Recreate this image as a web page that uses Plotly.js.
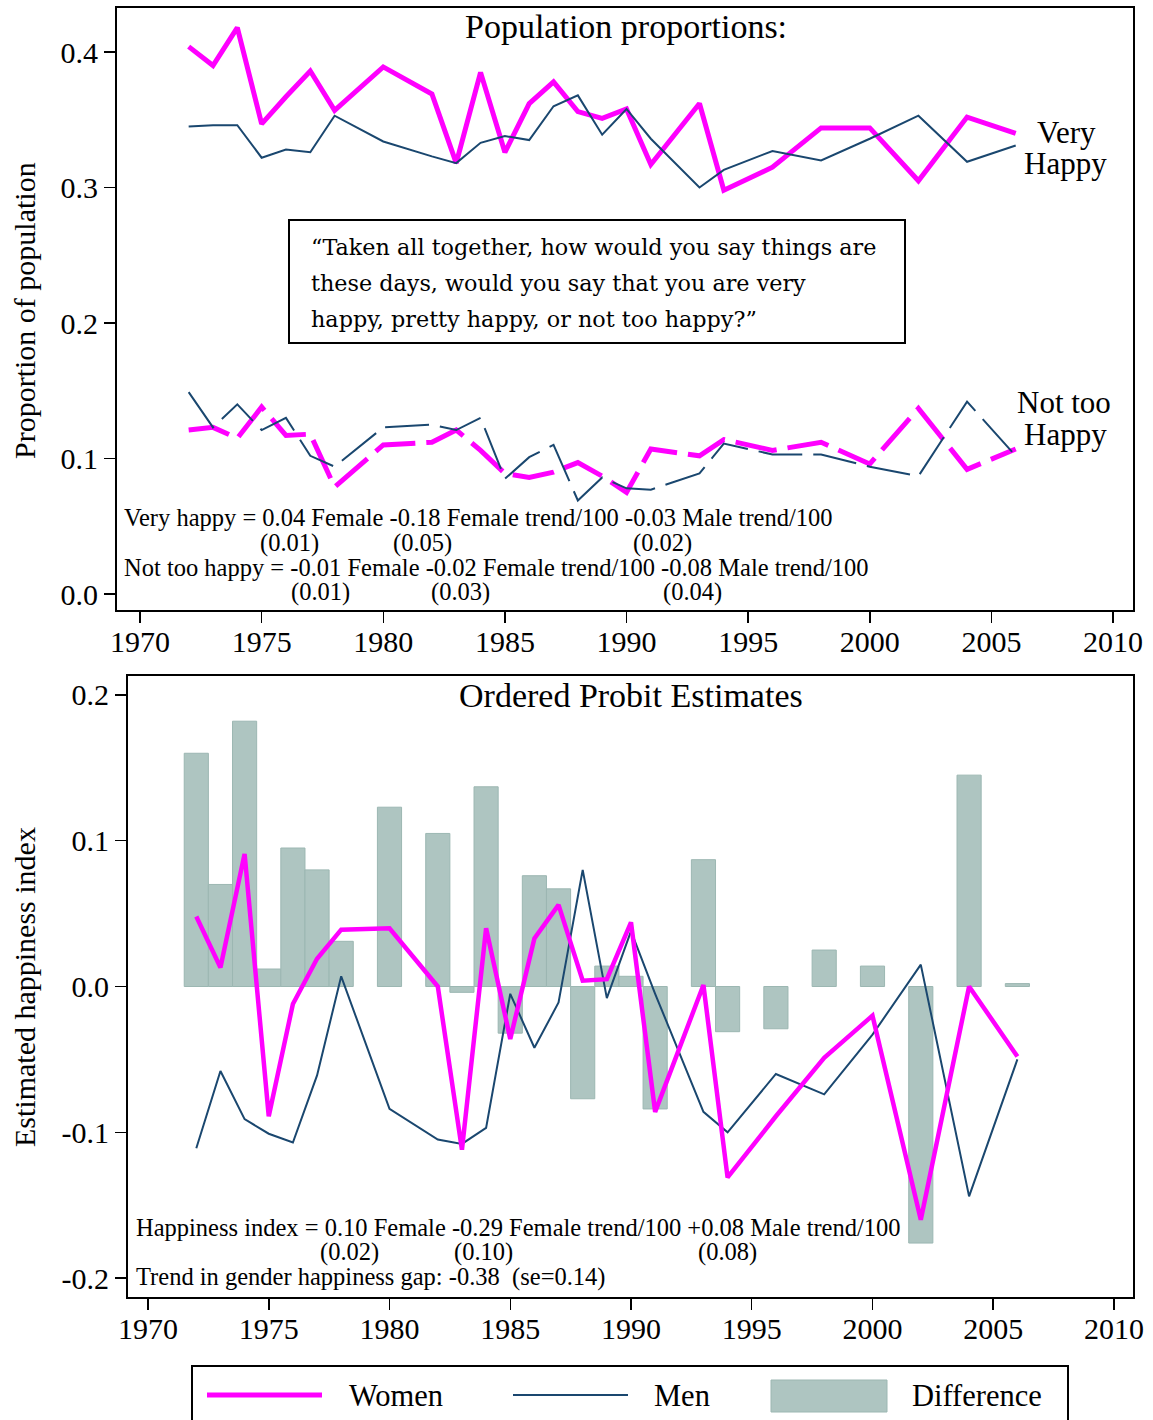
<!DOCTYPE html>
<html>
<head>
<meta charset="utf-8">
<script src="https://cdn.plot.ly/plotly-3.0.1.min.js"></script>
<style>
html,body{margin:0;padding:0;background:#fff;}
#chart{width:1153px;height:1420px;}
</style>
</head>
<body>
<div id="chart"></div>
<script>
// ---------------- DATA ----------------
const years = [1972,1973,1974,1975,1976,1977,1978,1980,1982,1983,1984,1985,1986,1987,1988,1989,1990,1991,1993,1994,1996,1998,2000,2002,2004,2006];

const womenVeryHappy = [0.404,0.390,0.418,0.347,0.367,0.386,0.357,0.389,0.369,0.318,0.385,0.326,0.362,0.378,0.356,0.351,0.358,0.317,0.362,0.298,0.315,0.344,0.344,0.305,0.352,0.340];
const menVeryHappy   = [0.345,0.346,0.346,0.322,0.328,0.326,0.353,0.334,0.323,0.318,0.333,0.338,0.335,0.360,0.368,0.339,0.358,0.336,0.300,0.313,0.327,0.320,0.336,0.353,0.319,0.331];
const womenNotTooHappy = [0.121,0.123,0.115,0.138,0.117,0.118,0.079,0.110,0.112,0.121,0.106,0.089,0.086,0.090,0.097,0.087,0.075,0.107,0.102,0.114,0.106,0.112,0.096,0.137,0.092,0.107];
const menNotTooHappy   = [0.149,0.123,0.140,0.121,0.130,0.102,0.094,0.123,0.125,0.121,0.130,0.085,0.101,0.110,0.069,0.086,0.078,0.077,0.089,0.111,0.103,0.103,0.094,0.087,0.142,0.102];

const womenIndex = [0.048,0.013,0.091,-0.089,-0.012,0.019,0.039,0.040,0.000,-0.112,0.040,-0.036,0.033,0.056,0.004,0.005,0.044,-0.086,0.001,-0.131,-0.089,-0.049,-0.020,-0.160,0.000,-0.048];
const menIndex   = [-0.111,-0.058,-0.091,-0.101,-0.107,-0.061,0.007,-0.084,-0.105,-0.108,-0.097,-0.005,-0.042,-0.011,0.080,-0.008,0.038,-0.005,-0.086,-0.100,-0.060,-0.074,-0.033,0.015,-0.144,-0.050];
const difference = [0.160,0.070,0.182,0.012,0.095,0.080,0.031,0.123,0.105,-0.004,0.137,-0.032,0.076,0.067,-0.077,0.014,0.007,-0.084,0.087,-0.031,-0.029,0.025,0.014,-0.176,0.145,0.002];

const xTickVals = [1970,1975,1980,1985,1990,1995,2000,2005,2010];
const xTickLabels = ['1970','1975','1980','1985','1990','1995','2000','2005','2010'];
const yTopTickVals = [0,0.1,0.2,0.3,0.4];
const yTopTickLabels = ['0.0','0.1','0.2','0.3','0.4'];
const yBotTickVals = [-0.2,-0.1,0,0.1,0.2];
const yBotTickLabels = ['-0.2','-0.1','0.0','0.1','0.2'];

const topTitle = 'Population proportions:';
const botTitle = 'Ordered Probit Estimates';
const topYTitle = 'Proportion of population';
const botYTitle = 'Estimated happiness index';
const quoteLines = ['\u201cTaken all together, how would you say things are',
                    'these days, would you say that you are very',
                    'happy, pretty happy, or not too happy?\u201d'];
const legendLabels = ['Women','Men','Difference'];

// ---------------- STYLE ----------------
const W = 1153, H = 1420;
const px = x => x / W;
const py = y => 1 - y / H;
const MAG = '#FF00FF';
const NAVY = '#1A476F';
const BAR = '#AEC5C1';
const BARLINE = '#9CB7B2';
const FONT = 'Liberation Serif, Times New Roman, serif';
const QFONT = 'DejaVu Serif, serif';

const traces = [
  {x: years, y: womenVeryHappy, type:'scatter', mode:'lines', xaxis:'x', yaxis:'y',
   line:{color:MAG, width:5}, hoverinfo:'skip'},
  {x: years, y: menVeryHappy, type:'scatter', mode:'lines', xaxis:'x', yaxis:'y',
   line:{color:NAVY, width:2}, hoverinfo:'skip'},
  {x: years, y: womenNotTooHappy, type:'scatter', mode:'lines', xaxis:'x', yaxis:'y',
   line:{color:MAG, width:5, dash:'42px,11px'}, hoverinfo:'skip'},
  {x: years, y: menNotTooHappy, type:'scatter', mode:'lines', xaxis:'x', yaxis:'y',
   line:{color:NAVY, width:2, dash:'44px,11px'}, hoverinfo:'skip'},
  {x: years, y: difference, type:'bar', xaxis:'x2', yaxis:'y2', width:1,
   marker:{color:BAR, line:{color:BARLINE, width:1}}, hoverinfo:'skip'},
  {x: years, y: menIndex, type:'scatter', mode:'lines', xaxis:'x2', yaxis:'y2',
   line:{color:NAVY, width:2}, hoverinfo:'skip'},
  {x: years, y: womenIndex, type:'scatter', mode:'lines', xaxis:'x2', yaxis:'y2',
   line:{color:MAG, width:4.5}, hoverinfo:'skip'}
];

function axisBase(){
  return {showline:true, linecolor:'#000', linewidth:2, mirror:true,
          ticks:'outside', ticklen:11, tickwidth:1.5, tickcolor:'#000',
          showgrid:false, zeroline:false, fixedrange:true,
          tickfont:{family:FONT, size:30, color:'#000'}};
}

const xa = Object.assign(axisBase(), {domain:[px(117), px(1133)], range:[1969.054, 2010.822],
  anchor:'y', tickmode:'array', tickvals:xTickVals, ticktext:xTickLabels, ticklabelstandoff:-7});
const ya = Object.assign(axisBase(), {domain:[py(610), py(8)], range:[-0.0118, 0.4325],
  anchor:'x', tickmode:'array', tickvals:yTopTickVals, ticktext:yTopTickLabels});
const xa2 = Object.assign(axisBase(), {domain:[px(128), px(1133)], range:[1969.172, 2010.787],
  anchor:'y2', tickmode:'array', tickvals:xTickVals, ticktext:xTickLabels, ticklabelstandoff:-7});
const ya2 = Object.assign(axisBase(), {domain:[py(1297), py(676)], range:[-0.2130, 0.2130],
  anchor:'x2', tickmode:'array', tickvals:yBotTickVals, ticktext:yBotTickLabels});

function ann(text, x, y, size, opts){
  return Object.assign({text:text, x:px(x), y:py(y), xref:'paper', yref:'paper',
    showarrow:false, xanchor:'center', yanchor:'middle',
    font:{family:FONT, size:size, color:'#000'}}, opts||{});
}

const TS = 24.5;
const QS = 22.3;
const qopt = {xanchor:'left', font:{family:QFONT, size:QS, color:'#000'}};
const annotations = [
  ann(topTitle, 626, 27, 34),
  ann(botTitle, 631, 695, 34),
  ann(topYTitle, 24, 311, 30, {textangle:-90}),
  ann(botYTitle, 24, 987, 30, {textangle:-90}),
  ann('Very', 1066, 133, 31),
  ann('Happy', 1065, 164, 31),
  ann('Not too', 1064, 403, 31),
  ann('Happy', 1065, 435, 31),
  ann(quoteLines[0], 309, 247, QS, qopt),
  ann(quoteLines[1], 309, 283, QS, qopt),
  ann(quoteLines[2], 309, 319, QS, qopt),
  ann('Very happy = 0.04 Female -0.18 Female trend/100 -0.03 Male trend/100', 122, 518, TS, {xanchor:'left'}),
  ann('(0.01)', 289, 543, TS),
  ann('(0.05)', 422, 543, TS),
  ann('(0.02)', 662, 543, TS),
  ann('Not too happy = -0.01 Female -0.02 Female trend/100 -0.08 Male trend/100', 122, 567, TS, {xanchor:'left'}),
  ann('(0.01)', 320, 592, TS),
  ann('(0.03)', 460, 592, TS),
  ann('(0.04)', 692, 592, TS),
  ann('Happiness index = 0.10 Female -0.29 Female trend/100 +0.08 Male trend/100', 134, 1227, TS, {xanchor:'left'}),
  ann('(0.02)', 349, 1252, TS),
  ann('(0.10)', 483, 1252, TS),
  ann('(0.08)', 727, 1252, TS),
  ann('Trend in gender happiness gap: -0.38  (se=0.14)', 134, 1277, TS, {xanchor:'left'}),
  ann(legendLabels[0], 396, 1396, 30.5),
  ann(legendLabels[1], 682, 1396, 30.5),
  ann(legendLabels[2], 977, 1396, 30.5)
];

const shapes = [
  {type:'rect', xref:'paper', yref:'paper', x0:px(289), x1:px(905), y0:py(343), y1:py(220),
   line:{color:'#000', width:2}, fillcolor:'rgba(255,255,255,0)'},
  {type:'rect', xref:'paper', yref:'paper', x0:px(192), x1:px(1068), y0:py(1430), y1:py(1366),
   line:{color:'#000', width:2}, fillcolor:'rgba(255,255,255,0)'},
  {type:'line', xref:'paper', yref:'paper', x0:px(207), x1:px(322), y0:py(1395), y1:py(1395),
   line:{color:MAG, width:5}},
  {type:'line', xref:'paper', yref:'paper', x0:px(513), x1:px(628), y0:py(1395), y1:py(1395),
   line:{color:NAVY, width:2}},
  {type:'rect', xref:'paper', yref:'paper', x0:px(771), x1:px(887), y0:py(1412), y1:py(1380),
   line:{color:BARLINE, width:1}, fillcolor:BAR}
];

const layout = {
  width:W, height:H, margin:{l:0,r:0,t:0,b:0,pad:0},
  paper_bgcolor:'#fff', plot_bgcolor:'#fff', showlegend:false,
  font:{family:FONT, color:'#000'},
  bargap:0,
  xaxis:xa, yaxis:ya, xaxis2:xa2, yaxis2:ya2,
  annotations:annotations, shapes:shapes
};

Plotly.newPlot('chart', traces, layout, {staticPlot:true, displayModeBar:false});
</script>
</body>
</html>
